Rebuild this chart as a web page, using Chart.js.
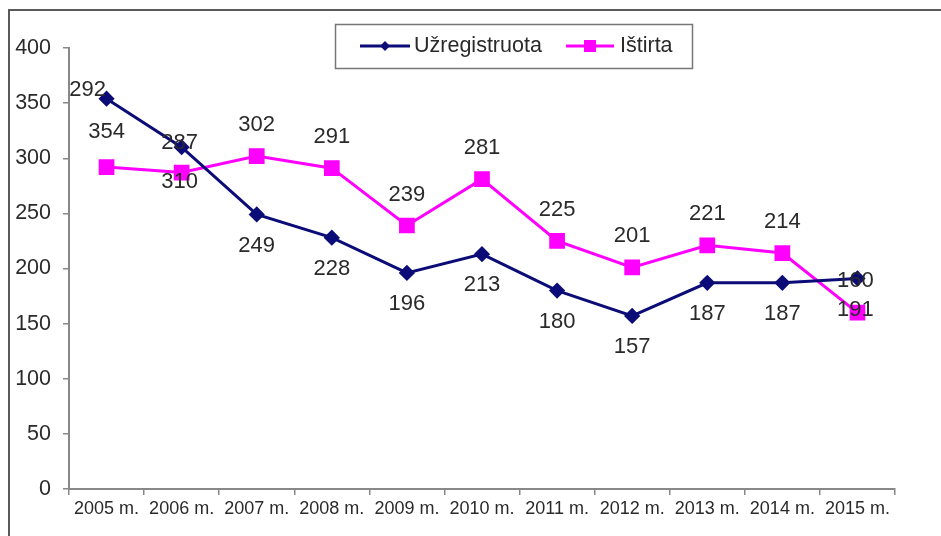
<!DOCTYPE html>
<html>
<head>
<meta charset="utf-8">
<script src="https://cdn.jsdelivr.net/npm/chart.js@4"></script>
<style>
  body { margin: 0; background: #fff; }
  #wrap { position: relative; width: 941px; height: 536px; }
</style>
</head>
<body>
<div id="wrap"><canvas id="myChart" width="941" height="536"></canvas></div>
<script>
const years = ["2005 m.", "2006 m.", "2007 m.", "2008 m.", "2009 m.", "2010 m.",
  "2011 m.", "2012 m.", "2013 m.", "2014 m.", "2015 m."];
const registered = [354, 310, 249, 228, 196, 213, 180, 157, 187, 187, 191];
const investigated = [292, 287, 302, 291, 239, 281, 225, 201, 221, 214, 160];
// label texts as they are printed next to each line in the picture
const registeredLabels = ["292", "287", "249", "228", "196", "213", "180", "157", "187", "187", "160"];
const investigatedLabels = ["354", "310", "302", "291", "239", "281", "225", "201", "221", "214", "191"];
const yTicks = [0, 50, 100, 150, 200, 250, 300, 350, 400];

const NAVY = "#0c0c78";
const MAGENTA = "#ff00ff";
const FONT = "'Liberation Sans', Arial, sans-serif";

// where each value label sits relative to its point
const labelOffsets = [
  { def: [0, 31], 0: [-19, -9], 1: [-2, -4], 10: [-2, 3] },
  { def: [0, -31], 0: [0, -35], 1: [-2, 9], 10: [-2, -3] },
];
const labelTexts = [registeredLabels, investigatedLabels];

const framePlugin = {
  id: "frame",
  beforeDraw(chart) {
    const ctx = chart.ctx;
    ctx.save();
    ctx.fillStyle = "#fff";
    ctx.fillRect(0, 0, chart.width, chart.height);
    ctx.strokeStyle = "#5a5a5a";
    ctx.lineWidth = 2;
    ctx.beginPath();
    ctx.moveTo(941, 10);
    ctx.lineTo(9, 10);
    ctx.lineTo(9, 536);
    ctx.stroke();
    ctx.restore();
  },
};

const valueLabels = {
  id: "valueLabels",
  afterDatasetsDraw(chart) {
    const ctx = chart.ctx;
    ctx.save();
    ctx.font = "22px " + FONT;
    ctx.fillStyle = "#2a2a2a";
    ctx.textAlign = "center";
    ctx.textBaseline = "middle";
    chart.data.datasets.forEach((ds, i) => {
      chart.getDatasetMeta(i).data.forEach((pt, j) => {
        const off = labelOffsets[i][j] || labelOffsets[i].def;
        ctx.fillText(labelTexts[i][j], pt.x + off[0], pt.y + off[1]);
      });
    });
    ctx.restore();
  },
};

const boxLegend = {
  id: "boxLegend",
  afterDraw(chart) {
    const ctx = chart.ctx;
    ctx.save();
    ctx.strokeStyle = "#777";
    ctx.lineWidth = 1.5;
    ctx.strokeRect(335.5, 24.5, 357, 44);

    const y = 46;
    ctx.lineWidth = 3;
    ctx.strokeStyle = NAVY;
    ctx.beginPath();
    ctx.moveTo(360, y);
    ctx.lineTo(410, y);
    ctx.stroke();
    ctx.fillStyle = NAVY;
    ctx.beginPath();
    ctx.moveTo(385, y - 5);
    ctx.lineTo(390, y);
    ctx.lineTo(385, y + 5);
    ctx.lineTo(380, y);
    ctx.closePath();
    ctx.fill();

    ctx.strokeStyle = MAGENTA;
    ctx.beginPath();
    ctx.moveTo(566, y);
    ctx.lineTo(614, y);
    ctx.stroke();
    ctx.fillStyle = MAGENTA;
    ctx.fillRect(584, y - 6, 12, 12);

    ctx.fillStyle = "#2a2a2a";
    ctx.font = "21.5px " + FONT;
    ctx.textBaseline = "middle";
    ctx.textAlign = "left";
    ctx.fillText("Užregistruota", 414, y);
    ctx.fillText("Ištirta", 620, y);
    ctx.restore();
  },
};

const ctx = document.getElementById("myChart").getContext("2d");

new Chart(ctx, {
  type: "line",
  data: {
    labels: years,
    datasets: [
      {
        label: "Užregistruota",
        data: registered,
        borderColor: NAVY,
        backgroundColor: NAVY,
        borderWidth: 3,
        pointStyle: "rectRot",
        pointRadius: 6,
        tension: 0,
      },
      {
        label: "Ištirta",
        data: investigated,
        borderColor: MAGENTA,
        backgroundColor: MAGENTA,
        borderWidth: 3,
        pointStyle: "rect",
        pointRadius: 9,
        tension: 0,
      },
    ],
  },
  plugins: [framePlugin, valueLabels, boxLegend],
  options: {
    responsive: false,
    animation: false,
    layout: { padding: { top: 48, right: 46, left: 0, bottom: 0 } },
    plugins: {
      legend: { display: false },
      tooltip: { enabled: false },
    },
    scales: {
      x: {
        type: "category",
        offset: true,
        grid: {
          display: true,
          drawOnChartArea: false,
          offset: true,
          tickLength: 6,
          color: "#888",
          lineWidth: 1.5,
        },
        border: { color: "#888", width: 2 },
        ticks: {
          font: { family: FONT, size: 18 },
          color: "#2a2a2a",
          padding: 3,
          maxRotation: 0,
          autoSkip: false,
        },
        afterFit(scale) {
          scale.height = 47;
        },
      },
      y: {
        min: 0,
        max: 400,
        afterBuildTicks(scale) {
          scale.ticks = yTicks.map((v) => ({ value: v }));
        },
        grid: {
          display: true,
          drawOnChartArea: false,
          tickLength: 6,
          color: "#888",
          lineWidth: 1.5,
        },
        border: { color: "#888", width: 2 },
        ticks: {
          font: { family: FONT, size: 21.5 },
          color: "#2a2a2a",
          padding: 12,
        },
        afterFit(scale) {
          scale.width = 69;
        },
      },
    },
  },
});
</script>
</body>
</html>
